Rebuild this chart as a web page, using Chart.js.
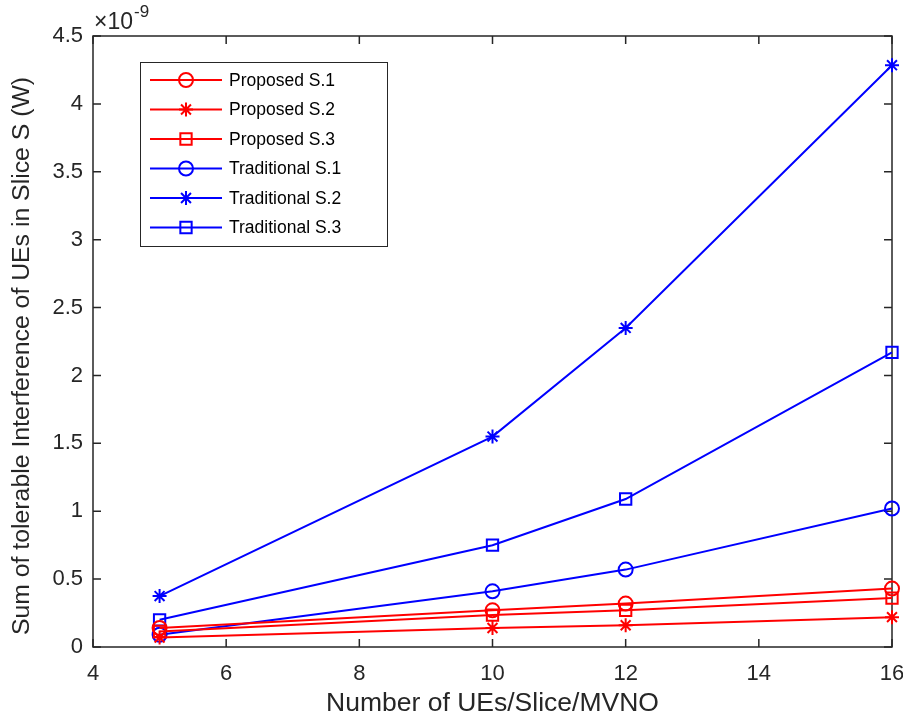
<!DOCTYPE html>
<html><head><meta charset="utf-8">
<script src="https://cdn.jsdelivr.net/npm/chart.js@4/dist/chart.umd.min.js"></script>
<style>html,body{margin:0;padding:0;background:#fff}#wrap{width:903px;height:722px}</style>
</head><body><div id="wrap"><canvas id="c" width="903" height="722"></canvas></div>
<script>
const xValues = [5, 10, 12, 16];
const proposedS1 = [0.14, 0.27, 0.32, 0.43];
const proposedS2 = [0.07, 0.14, 0.16, 0.22];
const proposedS3 = [0.115, 0.235, 0.27, 0.36];
const traditionalS1 = [0.09, 0.41, 0.57, 1.02];
const traditionalS2 = [0.375, 1.55, 2.35, 4.285];
const traditionalS3 = [0.2, 0.75, 1.09, 2.17];
const seriesNames = ['Proposed S.1','Proposed S.2','Proposed S.3','Traditional S.1','Traditional S.2','Traditional S.3'];
const xTicks = [4, 6, 8, 10, 12, 14, 16];
const yTicks = [0, 0.5, 1, 1.5, 2, 2.5, 3, 3.5, 4, 4.5];
const xTitle = 'Number of UEs/Slice/MVNO';
const yTitle = 'Sum of tolerable Interference of UEs in Slice S (W)';

const RED = '#ff0000', BLUE = '#0000ff', AX = '#262626';
const FONT = '"Liberation Sans", Arial, sans-serif';
function pts(ys){ return xValues.map((x,i)=>({x:x,y:ys[i]})); }
function ds(label, ys, color, style, r){
  return {label, data: pts(ys), borderColor: color, backgroundColor: 'rgba(0,0,0,0)',
    pointBorderColor: color, pointBackgroundColor: 'rgba(0,0,0,0)', pointStyle: style,
    pointRadius: r, pointHoverRadius: r, pointBorderWidth: 2, borderWidth: 2, tension: 0, clip: false};
}
const datasets = [
  ds(seriesNames[0], proposedS1, RED, 'circle', 7),
  ds(seriesNames[1], proposedS2, RED, 'star', 7),
  ds(seriesNames[2], proposedS3, RED, 'rect', 8),
  ds(seriesNames[3], traditionalS1, BLUE, 'circle', 7),
  ds(seriesNames[4], traditionalS2, BLUE, 'star', 7),
  ds(seriesNames[5], traditionalS3, BLUE, 'rect', 8)
];

const framePlugin = {
  id: 'frame',
  beforeDatasetsDraw(chart){
    const {ctx, chartArea: a, scales} = chart;
    ctx.save();
    ctx.strokeStyle = AX; ctx.lineWidth = 1.5;
    ctx.strokeRect(a.left, a.top, a.right - a.left, a.bottom - a.top);
    ctx.beginPath();
    const tl = 8;
    xTicks.forEach(v => { const px = scales.x.getPixelForValue(v);
      ctx.moveTo(px, a.bottom); ctx.lineTo(px, a.bottom - tl);
      ctx.moveTo(px, a.top); ctx.lineTo(px, a.top + tl); });
    yTicks.forEach(v => { const py = scales.y.getPixelForValue(v);
      ctx.moveTo(a.left, py); ctx.lineTo(a.left + tl, py);
      ctx.moveTo(a.right, py); ctx.lineTo(a.right - tl, py); });
    ctx.stroke();
    ctx.restore();
  },
  afterDraw(chart){
    const {ctx, chartArea: a} = chart;
    ctx.save();
    // y title
    ctx.save();
    ctx.translate(22, 356); ctx.rotate(-Math.PI / 2);
    ctx.fillStyle = AX; ctx.font = '24.8px ' + FONT; ctx.textAlign = 'center'; ctx.textBaseline = 'middle';
    ctx.fillText(yTitle, 0, 0);
    ctx.restore();
    // exponent label
    ctx.fillStyle = AX; ctx.textBaseline = 'alphabetic'; ctx.textAlign = 'left';
    ctx.font = '23px ' + FONT;
    ctx.fillText('\u00d710', a.left + 1, 29);
    const w = ctx.measureText('\u00d710').width;
    ctx.font = '17px ' + FONT;
    ctx.fillText('-9', a.left + w + 2, 17);
    // legend
    const lx = 140, ly = 62, lw = 247, lh = 184;
    ctx.fillStyle = '#fff'; ctx.fillRect(lx, ly, lw, lh);
    ctx.strokeStyle = AX; ctx.lineWidth = 1; ctx.strokeRect(lx + 0.5, ly + 0.5, lw, lh);
    chart.data.datasets.forEach((d, i) => {
      const y = 80 + i * 29.5;
      ctx.strokeStyle = d.borderColor; ctx.lineWidth = 2;
      ctx.beginPath(); ctx.moveTo(150, y); ctx.lineTo(222, y); ctx.stroke();
      ctx.fillStyle = 'rgba(0,0,0,0)';
      Chart.helpers.drawPoint(ctx, {pointStyle: d.pointStyle, radius: d.pointRadius, borderWidth: 2}, 186, y);
      ctx.fillStyle = '#000'; ctx.font = '17.5px ' + FONT; ctx.textBaseline = 'middle';
      ctx.fillText(d.label, 229, y + 1);
    });
    ctx.restore();
  }
};

new Chart(document.getElementById('c'), {
  type: 'line',
  data: { datasets },
  options: {
    responsive: false, animation: false, devicePixelRatio: 1,
    layout: { padding: { top: 36, right: 0, left: 0, bottom: 0 } },
    plugins: { legend: { display: false }, tooltip: { enabled: false } },
    elements: { line: { fill: false } },
    scales: {
      x: { type: 'linear', min: 4, max: 16,
        afterBuildTicks: s => { s.ticks = xTicks.map(v => ({value: v})); },
        afterFit: s => { s.height = 75; s.paddingRight = 11; },
        grid: { display: false, drawTicks: false }, border: { display: false },
        ticks: { color: AX, font: { family: FONT, size: 22 }, padding: 14, maxRotation: 0 },
        title: { display: true, text: xTitle, color: AX, font: { family: FONT, size: 26.5 }, padding: { top: 2, bottom: 2 } } },
      y: { type: 'linear', min: 0, max: 4.5,
        afterBuildTicks: s => { s.ticks = yTicks.map(v => ({value: v})); },
        afterFit: s => { s.width = 93; },
        grid: { display: false, drawTicks: false }, border: { display: false },
        ticks: { color: AX, font: { family: FONT, size: 22 }, padding: 10, callback: v => String(v) },
        title: { display: false } }
    }
  },
  plugins: [framePlugin]
});
</script></body></html>
